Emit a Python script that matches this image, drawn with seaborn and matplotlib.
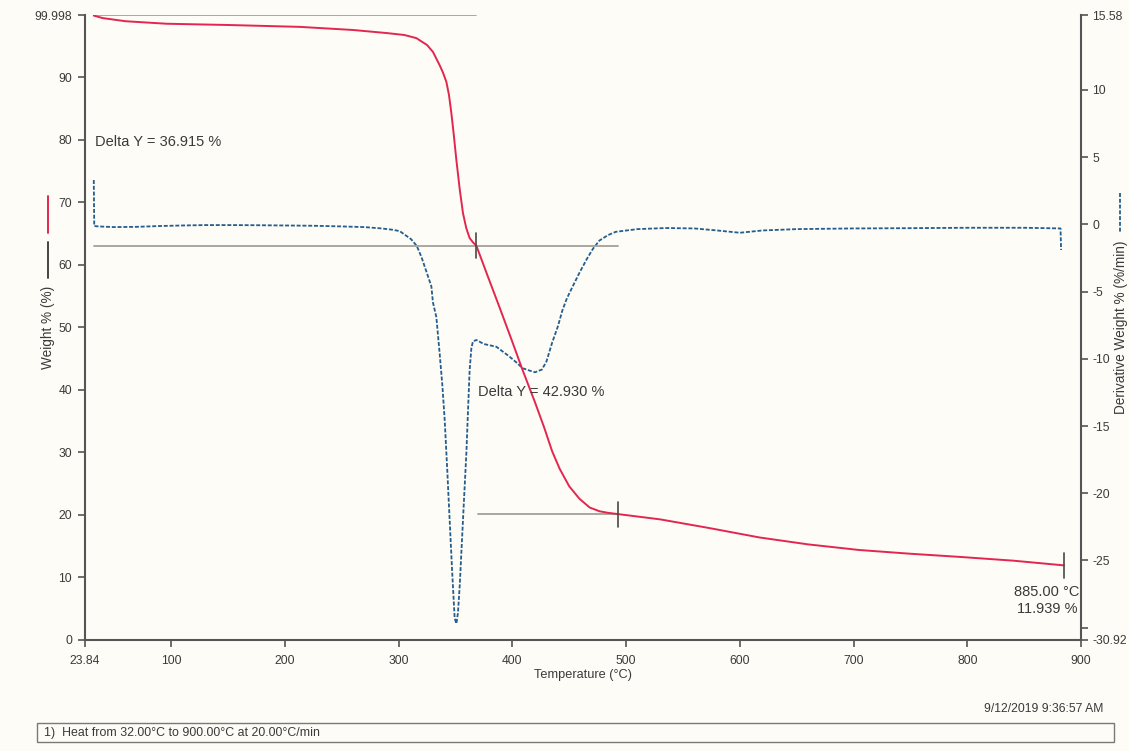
import matplotlib
matplotlib.use("Agg")
import matplotlib.pyplot as plt
import seaborn as sns
import pandas as pd
from matplotlib.lines import Line2D
from matplotlib.patches import Rectangle

# ---------------- data ----------------
temp_w = [32.0, 40, 60, 96, 150, 213, 260, 290, 305, 315.6, 325, 330.2, 336, 339, 342, 344.3,
          346.4, 348.6, 350.8, 353.7, 356.6, 359.5, 362.5, 365.5, 368.4, 378, 388.6, 399,
          409, 420, 428, 435, 441.6, 450, 459, 468, 476.6, 484, 492.7, 530, 573.5, 617.5,
          660, 705, 750, 793, 840, 885]
weight = [99.9, 99.5, 99.0, 98.6, 98.4, 98.1, 97.6, 97.1, 96.8, 96.3, 95.2, 94.1, 92.0, 90.8,
          89.3, 87.2, 84.3, 80.7, 76.8, 72.2, 68.3, 65.9, 64.3, 63.6, 63.08, 58.4, 53.3, 48.2,
          43.2, 38.0, 34.0, 30.2, 27.4, 24.6, 22.6, 21.2, 20.6, 20.35, 20.15, 19.3, 17.9, 16.4,
          15.3, 14.4, 13.8, 13.3, 12.7, 11.939]

temp_d = [32.0, 32.4, 36, 50, 70, 90, 110, 130, 150, 175, 200, 225, 250, 270, 285, 295, 301,
          306, 311, 316, 320, 324, 328.8, 330.2, 333.2, 336.1, 338.5, 340.5, 342.8, 344.9,
          347.2, 349.3, 350.8, 352.2, 353.8, 355.2, 357.5, 359.6, 361.2, 362.5, 364, 365.4,
          368.4, 375, 385.9, 397, 404, 409, 416, 420, 426, 430, 435, 440, 444, 448, 452, 459,
          466, 471, 476.6, 484, 491, 510, 535, 560, 580, 600, 620, 650, 700, 750, 800, 850,
          870, 882, 882.5]
deriv = [3.3, -0.12, -0.15, -0.2, -0.18, -0.12, -0.08, -0.05, -0.05, -0.06, -0.08, -0.1,
         -0.15, -0.2, -0.3, -0.4, -0.5, -0.8, -1.1, -1.6, -2.4, -3.4, -4.6, -5.8, -6.9, -9.6,
         -12.0, -14.5, -18.3, -22.0, -26.0, -29.3, -29.7, -28.9, -26.8, -24.4, -20.5, -17.0,
         -13.5, -10.8, -9.2, -8.7, -8.6, -8.9, -9.1, -9.8, -10.3, -10.7, -10.9, -11.0, -10.8,
         -10.2, -8.8, -7.6, -6.4, -5.5, -4.8, -3.6, -2.5, -1.8, -1.2, -0.8, -0.55, -0.35,
         -0.27, -0.3, -0.45, -0.62, -0.45, -0.35, -0.3, -0.28, -0.25, -0.25, -0.28, -0.3, -1.9]

x_ticks = [23.84, 100, 200, 300, 400, 500, 600, 700, 800, 900]
x_labels = ["23.84", "100", "200", "300", "400", "500", "600", "700", "800", "900"]
yl_ticks = [0, 10, 20, 30, 40, 50, 60, 70, 80, 90, 99.998]
yl_labels = ["0", "10", "20", "30", "40", "50", "60", "70", "80", "90", "99.998"]
yr_ticks = [15.58, 10, 5, 0, -5, -10, -15, -20, -25, -30, -30.92]
yr_labels = ["15.58", "10", "5", "0", "-5", "-10", "-15", "-20", "-25", "", "-30.92"]

# step analysis annotations
step_temps = [368.4, 492.7, 885.0]
step_weights = [63.08, 20.15, 11.939]
delta_labels = ["Delta Y = 36.915 %", "Delta Y = 42.930 %"]

# ---------------- style ----------------
BG = "#fdfcf6"
RED = "#e3264f"
BLUE = "#255d8e"
GUIDE = "#a3a29a"
INK = "#3a3a3a"
SPINE = "#555555"

sns.set_theme(style="ticks")
plt.rcParams['font.family'] = ['Liberation Sans', 'DejaVu Sans']

fig = plt.figure(figsize=(11.29, 7.51), dpi=100, facecolor=BG)
W, H = 1129, 751
ax = fig.add_axes([84.5 / W, 1 - 640 / H, (1081 - 84.5) / W, (640 - 15) / H])
ax.set_facecolor(BG)
ax2 = ax.twinx()

df_w = pd.DataFrame({"T": temp_w, "W": weight})
df_d = pd.DataFrame({"T": temp_d, "D": deriv})

sns.lineplot(data=df_d, x="T", y="D", ax=ax2, color=BLUE, lw=1.3,
             estimator=None, sort=False, linestyle=(0, (2.2, 1.0)), legend=False)
sns.lineplot(data=df_w, x="T", y="W", ax=ax, color=RED, lw=1.4,
             estimator=None, sort=False, legend=False)
ax.set_zorder(ax2.get_zorder() + 1)
ax.patch.set_visible(False)
ax2.patch.set_visible(False)
fig.patch.set_facecolor(BG)

# guide lines of the step analysis
ax.plot([32, step_temps[0]], [99.998, 99.998], color=GUIDE, lw=1.3, zorder=1)
ax.plot([32, step_temps[1]], [step_weights[0], step_weights[0]], color=GUIDE, lw=1.3, zorder=1)
ax.plot([step_temps[0] + 1, step_temps[1]], [step_weights[1], step_weights[1]], color=GUIDE, lw=1.3, zorder=1)
for t, w in zip(step_temps, step_weights):
    ax.plot([t, t], [w - 2.0, w + 2.0], color="#4a4a44", lw=1.2, zorder=4)

ax.text(33, 79.7, delta_labels[0], fontsize=10.5, color=INK, ha="left", va="center")
ax.text(369.6, 39.7, delta_labels[1], fontsize=10.5, color=INK, ha="left", va="center")
ax.text(899, 7.7, f"{step_temps[2]:.2f} °C", fontsize=10.5, color=INK, ha="right", va="center")
ax.text(897, 4.95, f"{step_weights[2]:.3f} %", fontsize=10.5, color=INK, ha="right", va="center")

# axes limits and ticks
ax.set_xlim(23.84, 900)
ax.set_ylim(0, 99.998)
ax2.set_ylim(-30.92, 15.58)
ax.set_xticks(x_ticks)
ax.set_xticklabels(x_labels)
ax.set_yticks(yl_ticks)
ax.set_yticklabels(yl_labels)
ax2.set_yticks(yr_ticks)
ax2.set_yticklabels(yr_labels)

for a in (ax, ax2):
    a.tick_params(axis="both", direction="out", length=5, width=1.2, color=SPINE,
                  labelsize=8.7, labelcolor=INK, pad=4)
    a.grid(False)
    a.spines["top"].set_visible(False)
ax.tick_params(axis="x", pad=6)
ax2.tick_params(axis="y", pad=3)
ax.spines["right"].set_visible(False)
ax2.spines["left"].set_visible(False)
ax2.spines["bottom"].set_visible(False)
for s in ("left", "bottom"):
    ax.spines[s].set_color(SPINE)
    ax.spines[s].set_linewidth(1.5)
ax2.spines["right"].set_color(SPINE)
ax2.spines["right"].set_linewidth(1.5)

ax.set_xlabel("Temperature (°C)", fontsize=9.2, color=INK)
ax.xaxis.set_label_coords(0.5, -0.056)
ax.xaxis.label.set_va("center")
ax.set_ylabel("Weight % (%)", fontsize=9.8, color=INK)
ax.yaxis.set_label_coords(-0.0366, 0.5)
ax.yaxis.label.set_va("center")
ax2.set_ylabel("Derivative Weight % (%/min)", fontsize=9.8, color=INK)
ax2.yaxis.set_label_coords(1.0405, 0.5)
ax2.yaxis.label.set_va("center")

# legend swatches next to the axis titles
fig.add_artist(Line2D([48 / W, 48 / W], [1 - 196 / H, 1 - 233 / H], color=RED, lw=1.4))
fig.add_artist(Line2D([48 / W, 48 / W], [1 - 242 / H, 1 - 278 / H], color="#444444", lw=1.4))
fig.add_artist(Line2D([1120 / W, 1120 / W], [1 - 193 / H, 1 - 233 / H], color=BLUE, lw=1.3,
                      linestyle=(0, (2.2, 1.0))))

# footer
fig.text(1103 / W, 1 - 709 / H, "9/12/2019 9:36:57 AM", fontsize=8.7, color=INK,
         ha="right", va="center")
fig.add_artist(Rectangle((37 / W, 1 - 742 / H), (1114 - 37) / W, 19 / H,
                         transform=fig.transFigure, fill=False, edgecolor="#7a7a75", lw=1.0))
fig.text(44 / W, 1 - 733 / H, "1)  Heat from 32.00°C to 900.00°C at 20.00°C/min",
         fontsize=8.9, color=INK, ha="left", va="center")

fig.savefig("out.png", dpi=100, facecolor=BG)
